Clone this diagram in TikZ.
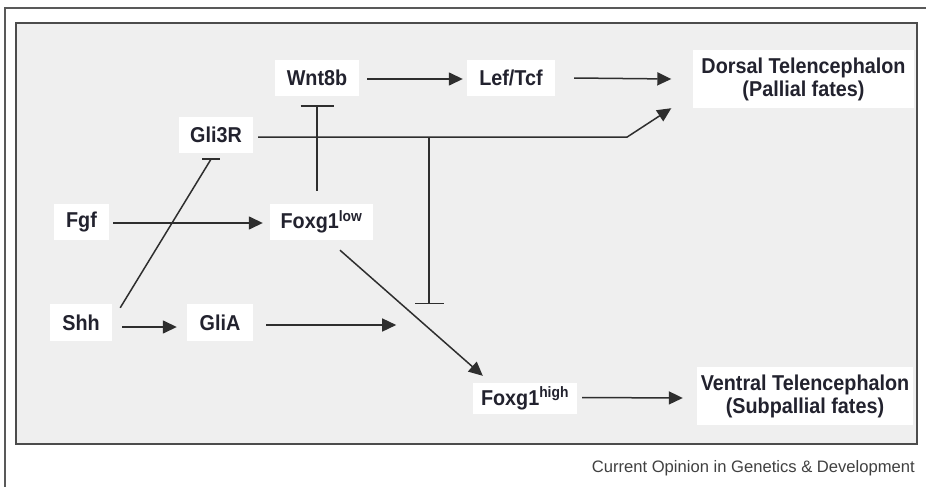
\documentclass[tikz,border=0pt]{standalone}
\usepackage{fontspec}
\setmainfont{Liberation Sans}
\newfontfamily\genefont{Liberation Sans}[FakeStretch=0.92]
\usetikzlibrary{arrows.meta,calc}
\definecolor{panel}{HTML}{EFEFEF}
\definecolor{ink}{HTML}{2E2E2E}
\definecolor{txt}{HTML}{22222E}
\begin{document}
\begin{tikzpicture}[x=1pt,y=-1pt,
  gene/.style={fill=white,draw=none,inner sep=0pt,text=txt,
    font=\genefont\fontsize{21.5}{23}\selectfont\bfseries,align=center},
  conn/.style={draw=ink,line width=1.5pt},
  arr/.style={conn,-{Triangle[length=14pt,width=13pt]}},
  inh/.style={conn,-{Bar[width=#1,line width=1.5pt]}},
  inh/.default=30pt]
\useasboundingbox (0,0) rectangle (926,487);
% frames
\draw[gray!70!black,line width=1.2pt] (5,487) -- (5,8) -- (926,8);
\draw[fill=panel,draw=black!70,line width=1.6pt] (16,23) rectangle (917,444);
% nodes
\node[gene,minimum width=84pt,minimum height=36pt] (wnt) at (317,78) {Wnt8b};
\node[gene,minimum width=88pt,minimum height=36pt] (lef) at (511,78) {Lef/Tcf};
\node[gene,minimum width=74pt,minimum height=36pt] (gli3r) at (216,135) {Gli3R};
\node[gene,minimum width=55pt,minimum height=36pt] (fgf) at (81.5,222) {Fgf};
\node[gene,minimum width=103pt,minimum height=36pt] (foxlow) at (321.5,222) {Foxg1\textsuperscript{low}};
\node[gene,minimum width=62pt,minimum height=37pt] (shh) at (81,322.5) {Shh};
\node[gene,minimum width=66pt,minimum height=37pt] (glia) at (220,322.5) {GliA};
\node[gene,minimum width=104pt,minimum height=31pt] (foxhigh) at (525,398.5) {Foxg1\textsuperscript{high}};
\node[gene,minimum width=221pt,minimum height=58pt] (dorsal) at (803.5,79) {Dorsal Telencephalon\\(Pallial fates)};
\node[gene,minimum width=216pt,minimum height=58pt] (ventral) at (805,396) {Ventral Telencephalon\\(Subpallial fates)};
\node[anchor=base east,inner sep=0pt,text=black!75,font=\fontsize{16.6}{18}\selectfont] (credit) at (915,472.5) {Current Opinion in Genetics \& Development};
% coordinates
\coordinate (c1) at ($(gli3r.east)+(374,2)$);
\coordinate (j1) at ($(gli3r.east)+(176,2)$);
\coordinate (b1) at ($(j1)+(0,167)$);
\coordinate (a1) at ($(glia.east)+(143,2.5)$);
\coordinate (t1) at ($(gli3r.south)+(-5,6)$);
% connectors
\draw[arr] ($(wnt.east)+(8,1)$) -- ($(lef.west)+(-4,1)$);
\draw[arr] ($(lef.east)+(19,0)$) -- ($(dorsal.west)+(-21.5,0)$);
\draw[arr] ($(gli3r.east)+(5,2)$) -- (c1) -- ($(dorsal.south west)+(-21.5,0)$);
\draw[inh=33pt] ($(foxlow.north)+(-4.5,-13)$) -- ($(wnt.south)+(0,9)$);
\draw[inh=29pt] (j1) -- (b1);
\draw[conn] ($(shh.north east)+(8,4)$) -- (t1);
\draw[conn] ($(t1)+(-9,0)$) -- ($(t1)+(9,0)$);
\draw[arr] ($(fgf.east)+(4,1)$) -- ($(foxlow.west)+(-7,1)$);
\draw[arr] ($(shh.east)+(10,4.5)$) -- ($(glia.west)+(-10,4.5)$);
\draw[arr] ($(glia.east)+(13,2.5)$) -- (a1);
\draw[arr] ($(foxlow.south)+(18.5,10)$) -- ($(foxhigh.north west)+(10,-7)$);
\draw[arr] ($(foxhigh.east)+(5,-1)$) -- ($(ventral.west)+(-14,2)$);
\end{tikzpicture}
\end{document}
